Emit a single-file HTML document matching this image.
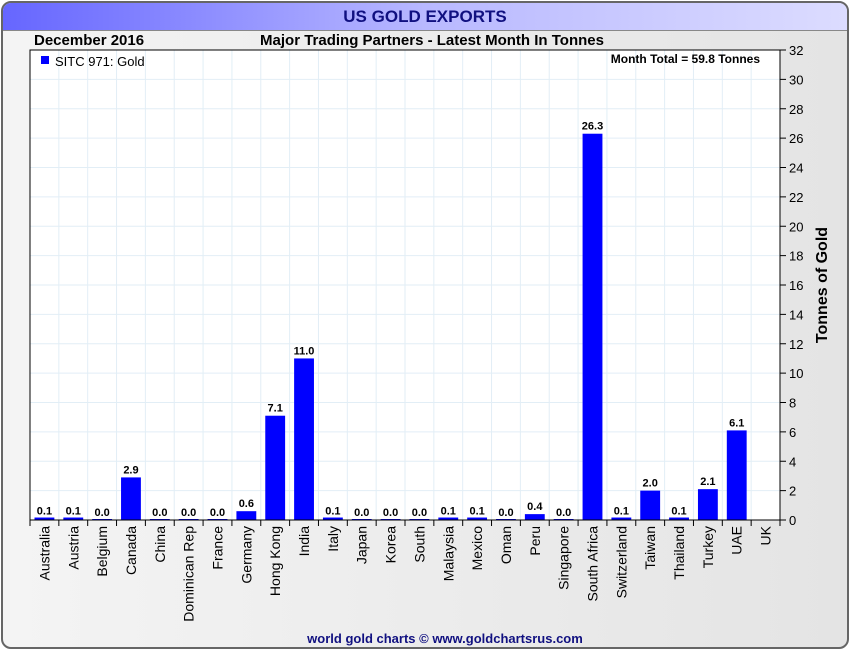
<!DOCTYPE html>
<html><head><meta charset="utf-8"><style>
body{margin:0;width:850px;height:650px;background:#fff;font-family:"Liberation Sans",sans-serif;overflow:hidden}
#frame{position:absolute;left:1px;top:1px;width:844px;height:644px;border:2px solid #666;border-radius:10px;background:linear-gradient(90deg,#f4f4f4,#e4e4e4);overflow:hidden}
#titlebar{position:absolute;left:0;top:0;width:844px;height:27px;background:linear-gradient(90deg,#6666ff,#b8b8ff 50%,#dcdcff);border-bottom:1px solid #888;text-align:center;font-weight:bold;font-size:17px;line-height:27px;color:#101080}
</style></head><body>
<div id="frame">
<div id="titlebar">US GOLD EXPORTS</div>
</div>
<svg id="chart" width="850" height="650" style="position:absolute;left:0;top:0"></svg>
<script>
const categories=["Australia","Austria","Belgium","Canada","China","Dominican Rep","France","Germany","Hong Kong","India","Italy","Japan","Korea","South","Malaysia","Mexico","Oman","Peru","Singapore","South Africa","Switzerland","Taiwan","Thailand","Turkey","UAE","UK"];
const values=[0.1,0.1,0.0,2.9,0.0,0.0,0.0,0.6,7.1,11.0,0.1,0.0,0.0,0.0,0.1,0.1,0.0,0.4,0.0,26.3,0.1,2.0,0.1,2.1,6.1,null];
const yTicks=[0,2,4,6,8,10,12,14,16,18,20,22,24,26,28,30,32];
const NS="http://www.w3.org/2000/svg";
const svg=document.getElementById('chart');
const L=30,R=780,T=50,B=520,yMax=32;
const cats=categories;
const bw=(R-L)/cats.length;
const x=i=>L+i*bw;
const y=v=>B-(v/yMax)*(B-T);
function mk(t,a,txt){const e=document.createElementNS(NS,t);for(const k in a)e.setAttribute(k,a[k]);if(txt!==undefined)e.textContent=txt;svg.appendChild(e);return e;}
let e=mk('rect',{x:L,y:T,width:R-L,height:B-T,fill:'#fff'});


for(let i=1;i<cats.length;i++){e=mk('line',{x1:x(i),x2:x(i),y1:T,y2:B,stroke:'#e2eef6'});

}
yTicks.forEach(t=>{if(t>0&&t<yMax){e=mk('line',{x1:L,x2:R,y1:y(t),y2:y(t),stroke:'#e2eef6'});

}
e=mk('line',{x1:R,x2:R+6,y1:y(t),y2:y(t),stroke:'#000'});


e=mk('text',{x:R+9,y:y(t)+5,'font-size':13,fill:'#000'},t);

});
cats.forEach((c,i)=>{const v=values[i];
if(v!==null){const yy=y(v);e=mk('rect',{x:x(i)+4.5,y:yy-(v<0.2?1:0),width:bw-9,height:B-yy+(v<0.2?1:0),fill:'#0000ff'});


e=mk('text',{x:x(i)+bw/2,y:yy-4,'font-size':11,'font-weight':'bold','text-anchor':'middle'},v.toFixed(1));

}
e=mk('line',{x1:x(i),x2:x(i),y1:B,y2:B+6,stroke:'#000'});


const cx=x(i)+bw/2+5;
e=mk('text',{x:cx,y:B+6,'font-size':14,'text-anchor':'end',transform:`rotate(-90 ${cx} ${B+6})`},c);

});
e=mk('line',{x1:R,x2:R,y1:B,y2:B+6,stroke:'#000'});


e=mk('rect',{x:L,y:T,width:R-L,height:B-T,fill:'none',stroke:'#000'});


e=mk('text',{x:34,y:45,'font-size':15,'font-weight':'bold'},'December 2016');


e=mk('text',{x:432,y:45,'font-size':15,'font-weight':'bold','text-anchor':'middle'},'Major Trading Partners - Latest Month In Tonnes');


e=mk('rect',{x:41,y:56,width:8,height:8,fill:'#0000ff'});


e=mk('text',{x:55,y:66,'font-size':13},'SITC 971: Gold');


e=mk('text',{x:760,y:63,'font-size':12,'font-weight':'bold','text-anchor':'end'},'Month Total = 59.8 Tonnes');


e=mk('text',{x:827,y:285,'font-size':16,'font-weight':'bold','text-anchor':'middle',transform:'rotate(-90 827 285)'},'Tonnes of Gold');


e=mk('text',{x:445,y:643,'font-size':13,'font-weight':'bold','fill':'#101080','text-anchor':'middle'},'world gold charts © www.goldchartsrus.com');


</script>
</body></html>
